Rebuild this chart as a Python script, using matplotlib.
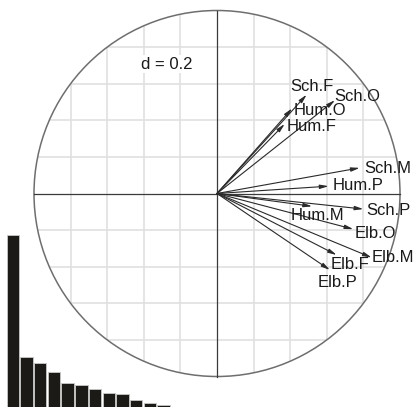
import numpy as np
import matplotlib.pyplot as plt
from matplotlib.patches import Circle

plt.rcParams['font.family'] = ['Liberation Sans', 'DejaVu Sans']

# ---- variable loadings on axes 1 and 2 ----
var_names = ["Sch.F", "Sch.O", "Hum.O", "Hum.F", "Sch.M", "Hum.P",
             "Sch.P", "Hum.M", "Elb.O", "Elb.M", "Elb.F", "Elb.P"]
axis1 = [0.49, 0.645, 0.41, 0.37, 0.78, 0.61, 0.80, 0.52, 0.745, 0.845, 0.654, 0.617]
axis2 = [0.54, 0.51, 0.465, 0.38, 0.14, 0.04, -0.085, -0.07, -0.195, -0.35, -0.336, -0.418]

# ---- eigenvalues ----
eigenvalues = [5.09, 1.49, 1.31, 1.03, 0.70, 0.66, 0.54, 0.42, 0.39, 0.21, 0.11, 0.05]

grid_step = 0.2

# label offsets (pixels) from each arrow tip
label_offsets = [(5, 8), (22, 4), (28, -2), (27, -3), (28, -1), (29, 1),
                 (25, -1), (5, -9), (22, -4), (21, 0), (13, -10), (8, -13)]

W, H, DPI = 416, 407, 100
fig = plt.figure(figsize=(W / DPI, H / DPI), dpi=DPI)

# main correlation circle, unit radius = 183 px, centre at (217, 193.5) from top
R = 183.0
cx, cy = 217.0, H - 193.5
ax = fig.add_axes([0, 0, 1, 1])
ax.set_xlim(-cx / R, (W - cx) / R)
ax.set_ylim(-cy / R, (H - cy) / R)
ax.axis("off")

clip = Circle((0, 0), 1, transform=ax.transData, facecolor="none", edgecolor="none")
ax.add_patch(clip)
ticks = np.arange(-1 + grid_step, 1 - grid_step / 2, grid_step)
for t in ticks:
    if abs(t) < 1e-9:
        continue
    for ln in (ax.plot([t, t], [-1, 1], color="#e0e0e0", lw=1.2, zorder=1)[0],
               ax.plot([-1, 1], [t, t], color="#e0e0e0", lw=1.2, zorder=1)[0]):
        ln.set_clip_path(clip)

ax.add_patch(Circle((0, 0), 1, facecolor="none", edgecolor="#6e6e6e", lw=1.1, zorder=2))
ax.plot([-1, 1], [0, 0], color="#3a3a3a", lw=0.9, zorder=2)
ax.plot([0, 0], [-1, 1], color="#3a3a3a", lw=0.9, zorder=2)

ax.text(-0.276, 0.706, "d = 0.2", fontsize=12, color="#1a1a1a", ha="center", va="center",
        bbox=dict(facecolor="white", edgecolor="none", pad=1), zorder=3)

for name, x, y, off in zip(var_names, axis1, axis2, label_offsets):
    ax.annotate("", xy=(x, y), xytext=(0, 0),
                arrowprops=dict(arrowstyle="-|>,head_length=0.5,head_width=0.12",
                                color="#2a2a2a", lw=0.8, shrinkA=0, shrinkB=0),
                zorder=4)
    ax.annotate(name, xy=(x, y), xytext=off, textcoords="offset pixels",
                ha="center", va="center", fontsize=12, color="#1a1a1a", zorder=5)

# eigenvalue barplot in the lower left corner
pitch = 13.7
bx0, bw, bh = 0.0, 175.0, 180.0
ax2 = fig.add_axes([bx0 / W, 0, bw / W, bh / H])
ax2.patch.set_visible(False)
first_center = 12.85
ax2.set_xlim(-first_center / pitch, (bw - first_center) / pitch)
ax2.set_ylim(0, eigenvalues[0] * bh / 172.0)
ax2.bar(np.arange(len(eigenvalues)), eigenvalues, width=0.9,
        color="#1c1a17", edgecolor="#c8c8c8", linewidth=0.6)
ax2.axis("off")

fig.savefig("out.png", dpi=DPI)
